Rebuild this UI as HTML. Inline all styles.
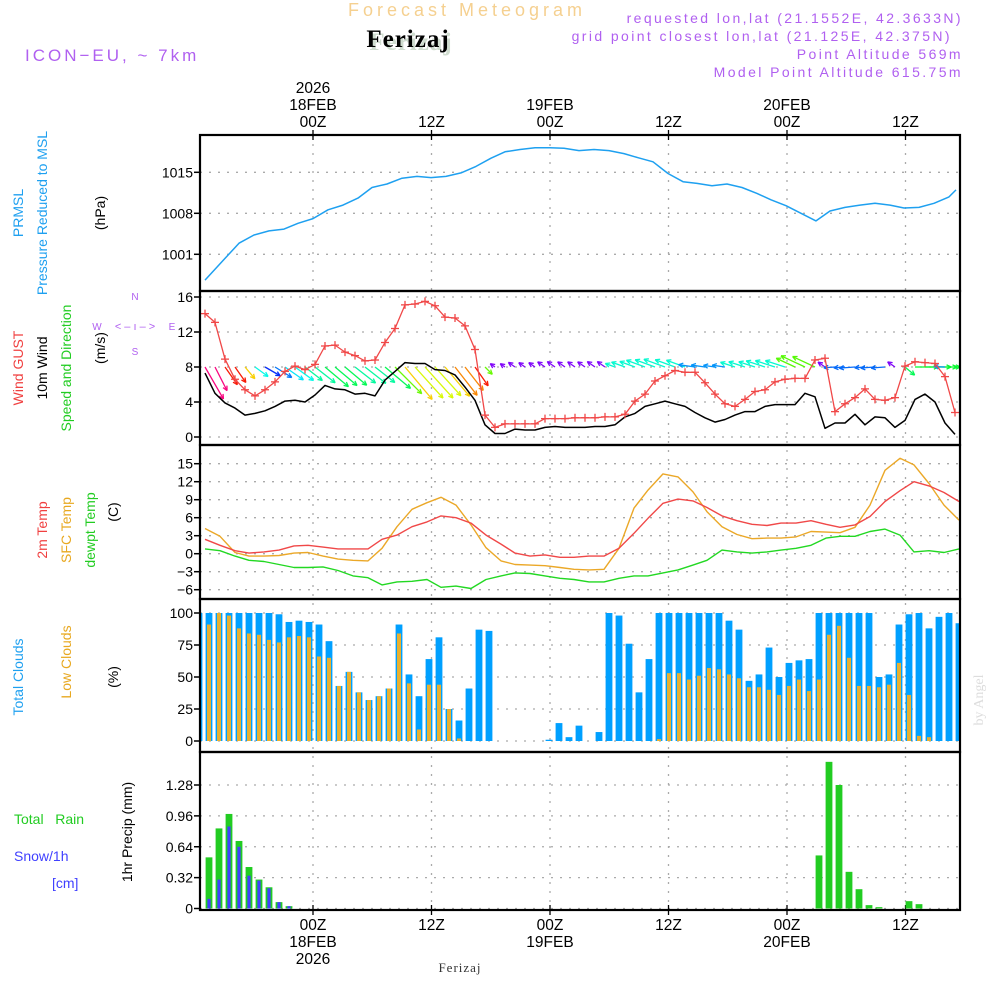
<!DOCTYPE html>
<html><head><meta charset="utf-8">
<style>
html,body{margin:0;padding:0;background:#fff;}
svg{display:block;font-family:"Liberation Sans",sans-serif;}
</style></head>
<body>
<svg id="chart" width="1000" height="1000" viewBox="0 0 1000 1000" xmlns="http://www.w3.org/2000/svg">
<rect x="0" y="0" width="1000" height="1000" fill="#fff"/>
<text x="467" y="16" text-anchor="middle" font-size="18" fill="#f5d090" letter-spacing="4">Forecast Meteogram</text>
<text x="411" y="50" text-anchor="middle" font-size="25" font-weight="bold" font-family="Liberation Serif,serif" fill="#cfdccf" letter-spacing="1">Ferizaj</text>
<text x="408" y="47" text-anchor="middle" font-size="25" font-weight="bold" font-family="Liberation Serif,serif" fill="#000" letter-spacing="1">Ferizaj</text>
<text x="25" y="61" font-size="17" fill="#b060f0" letter-spacing="3">ICON−EU, ~ 7km</text>
<g font-size="14" fill="#b060f0" text-anchor="end" letter-spacing="2.4">
<text x="963" y="23">requested lon,lat (21.1552E, 42.3633N)</text>
<text x="952" y="41">grid point closest lon,lat (21.125E, 42.375N)</text>
<text x="963" y="59">Point Altitude 569m</text>
<text x="963" y="77">Model Point Altitude 615.75m</text>
</g>
<g id="axes"></g>
<g id="marks"></g>
<g font-size="14">
<text transform="translate(23,213) rotate(-90)" text-anchor="middle" fill="#1ea0f0">PRMSL</text>
<text transform="translate(47,213) rotate(-90)" text-anchor="middle" fill="#1ea0f0">Pressure Reduced to MSL</text>
<text transform="translate(105,213) rotate(-90)" text-anchor="middle" fill="#000">(hPa)</text>
<text transform="translate(23,368) rotate(-90)" text-anchor="middle" fill="#f04040">Wind GUST</text>
<text transform="translate(47,368) rotate(-90)" text-anchor="middle" fill="#000">10m Wind</text>
<text transform="translate(71,368) rotate(-90)" text-anchor="middle" fill="#22cc22">Speed and Direction</text>
<text transform="translate(105,348) rotate(-90)" text-anchor="middle" fill="#000">(m/s)</text>
<g fill="#b060f0" font-size="10">
<text x="135" y="300" text-anchor="middle">N</text>
<text x="135" y="355" text-anchor="middle">S</text>
<text x="97" y="330" text-anchor="middle">W</text>
<text x="172" y="330" text-anchor="middle">E</text>
<text x="135" y="330" text-anchor="middle" font-size="11">&lt; – ı – &gt;</text>
</g>
<text transform="translate(47,530) rotate(-90)" text-anchor="middle" fill="#f04040">2m Temp</text>
<text transform="translate(71,530) rotate(-90)" text-anchor="middle" fill="#e8a820">SFC Temp</text>
<text transform="translate(95,530) rotate(-90)" text-anchor="middle" fill="#22cc22">dewpt Temp</text>
<text transform="translate(118,512) rotate(-90)" text-anchor="middle" fill="#000">(C)</text>
<text transform="translate(23,677) rotate(-90)" text-anchor="middle" fill="#1ea0f0">Total Clouds</text>
<text transform="translate(71,662) rotate(-90)" text-anchor="middle" fill="#e8a820">Low Clouds</text>
<text transform="translate(118,677) rotate(-90)" text-anchor="middle" fill="#000">(%)</text>
<text x="14" y="824" fill="#22cc22" xml:space="preserve">Total   Rain</text>
<text x="14" y="861" fill="#4040ff">Snow/1h</text>
<text x="52" y="888" fill="#4040ff">[cm]</text>
<text transform="translate(132,832) rotate(-90)" text-anchor="middle" fill="#000">1hr Precip (mm)</text>
</g>
<text transform="translate(983,700) rotate(-90)" text-anchor="middle" font-size="14" font-family="Liberation Serif,serif" fill="#dddddd">by Angel</text>
<text x="460" y="972" text-anchor="middle" font-size="13" font-family="Liberation Serif,serif" fill="#333" letter-spacing="1">Ferizaj</text>
</svg>
<script>
// ---- data ----
const pressHours = [0,2,3.4,4.9,6.4,7.9,9.3,10.8,12.3,13.8,15.3,16.7,18.2,19.7,21.2,22.6,24.1,25.6,27.1,28.6,30.0,31.5,33.0,34.5,35.9,37.4,38.9,40.4,41.9,43.3,44.8,46.3,47.8,49.2,50.7,52.2,53.7,55.2,56.6,58.1,59.6,61.1,62.5,64.0,65.5,67.0,68.5,69.9,71.4,72.9,74.4,75.1];
const pressure = [996.6,1000.3,1002.9,1004.3,1005.0,1005.3,1006.3,1007.1,1008.6,1009.4,1010.6,1012.4,1013.0,1014.0,1014.3,1014.1,1014.3,1014.9,1016.0,1017.4,1018.5,1018.9,1019.2,1019.2,1019.1,1018.7,1018.9,1018.7,1018.2,1017.5,1016.8,1014.8,1013.4,1013.1,1012.7,1013.0,1012.4,1011.4,1010.3,1009.3,1008.0,1006.7,1008.4,1009.0,1009.4,1009.7,1009.4,1008.9,1009.0,1009.7,1010.8,1012.0];
const gust = [14.1,13.1,8.9,6.6,5.4,4.7,5.4,6.3,7.5,8.1,7.7,8.3,10.4,10.5,9.7,9.3,8.7,8.8,10.8,12.4,15.1,15.2,15.5,15.0,13.7,13.6,12.7,10.0,2.5,1.1,1.5,1.5,1.5,1.5,2.1,2.1,2.1,2.2,2.2,2.2,2.3,2.3,2.6,4.1,4.9,6.4,7.0,7.6,7.4,7.4,6.2,4.9,3.8,3.5,4.3,5.2,5.4,6.3,6.6,6.7,6.7,8.8,9.0,2.9,3.8,4.5,5.5,4.3,4.2,4.5,8.1,8.6,8.5,8.4,6.9,2.8];
const windSpeed = [7.3,5.0,3.9,3.3,2.5,2.7,3.0,3.5,4.1,4.2,4.0,4.8,5.9,5.5,5.4,4.9,5.0,4.7,6.5,7.5,8.5,8.4,8.4,7.7,7.6,7.1,5.7,4.2,1.4,0.4,0.4,0.9,0.8,0.8,1.1,1.2,1.1,1.1,1.1,1.2,1.2,1.4,2.3,2.7,3.5,3.8,4.1,3.8,3.5,2.8,2.2,1.7,2.0,2.5,2.9,2.9,3.5,3.7,3.7,3.7,5.0,4.6,1.0,1.6,1.6,2.6,1.4,2.3,2.2,1.1,1.9,4.3,4.9,4.0,1.6,0.3];
const windToward = [60,63,55,55,50,36,30,32,35,36,38,38,40,40,40,38,38,38,40,45,50,48,48,48,50,52,52,55,45,-145,-145,-145,-145,-145,-145,-145,-145,-145,-145,-145,-145,-160,-160,-160,-160,-160,-160,-160,-160,-172,-172,-172,-172,-162,-162,-162,-162,-162,-162,-155,-155,-155,-145,176,176,176,176,176,176,-145,40,0,0,0,-178,0];
const tempHours = [0,1.5,3,4.4,5.9,7.4,8.9,10.3,11.8,13.3,14.8,16.3,17.7,19.2,20.7,22.2,23.6,25.1,26.6,28.1,29.6,31,32.5,34,35.5,36.9,38.4,39.9,41.4,42.9,44.3,45.8,47.3,48.8,50.2,51.7,53.2,54.7,56.2,57.6,59.1,60.6,62.1,63.5,65,66.5,68,69.5,70.9,72.4,73.9,75.4];
const temp2m = [2.4,1.4,0.5,0.1,0.3,0.6,1.3,1.4,1.1,0.8,0.8,0.8,2.4,3.1,4.5,5.3,6.3,6.0,5.1,3.1,1.6,0.1,-0.4,-0.2,-0.6,-0.6,-0.4,-0.4,0.9,3.4,5.9,8.4,9.1,8.8,7.7,6.3,5.5,4.9,4.7,5.1,5.1,5.5,4.9,4.4,4.8,6.2,8.7,10.5,12.0,11.3,10.2,8.7];
const tempSfc = [4.2,2.9,0.2,-0.4,-0.4,-0.3,0.1,0.2,-0.4,-0.9,-1.1,-1.2,0.9,4.5,7.4,8.5,9.4,8.1,4.8,1.0,-1.2,-1.8,-1.9,-2.0,-2.3,-2.6,-2.7,-2.6,0.9,7.6,10.6,13.3,12.8,10.3,7.0,4.5,3.2,2.5,2.6,2.6,2.8,3.7,3.6,3.5,4.4,8.1,13.9,15.9,14.8,11.7,8.1,5.6];
const dewpt = [0.8,0.5,-0.4,-1.1,-1.3,-1.8,-2.3,-2.3,-2.2,-2.8,-3.7,-4.0,-5.2,-4.7,-4.6,-4.3,-5.6,-5.4,-5.8,-4.3,-3.7,-3.2,-3.3,-3.7,-4.1,-4.3,-4.7,-4.7,-4.1,-3.7,-3.7,-3.2,-2.7,-1.9,-1.1,0.6,0.3,0.1,0.3,0.6,0.9,1.4,2.6,2.9,2.9,3.7,4.1,3.1,0.3,0.5,0.2,0.8];
const totalClouds = [100,100,100,100,100,100,100,100,99,93,94,93,91,78,43,54,38,32,35,41,91,52,35,64,81,25,16,41,87,86,0,0,0,0,0,1,14,3,12,0,7,100,98,76,38,64,100,100,100,100,100,100,100,94,87,47,52,73,50,61,63,64,100,100,100,100,100,100,50,52,91,99,100,88,97,100,92];
const lowClouds = [90,91,100,98,88,84,83,79,77,81,82,81,66,65,43,54,38,32,35,41,84,45,9,44,44,25,2,0,0,0,0,0,0,0,0,0,0,0,0,0,0,0,0,0,0,0,1.5,53,53,48,51,57,56,52,49,42,42,40,36,43,48,39,48,83,90,65,43,43,42,44,61,36,4,3,0,0,0];
const rain = [0,0.53,0.83,0.98,0.70,0.43,0.30,0.22,0.066,0.024,0,0,0,0,0,0,0,0,0,0,0,0,0,0,0,0,0,0,0,0,0,0,0,0,0,0,0,0,0,0,0,0,0,0,0,0,0,0,0,0,0,0,0,0,0,0,0,0,0,0,0,0,0.55,1.52,1.28,0.38,0.20,0.035,0.014,0,0,0.076,0.045,0,0,0,0];
const snow = [0,0.10,0.30,0.85,0.64,0.34,0.29,0.21,0.066,0.024,0,0,0,0,0,0,0,0,0,0,0,0,0,0,0,0,0,0,0,0,0,0,0,0,0,0,0,0,0,0,0,0,0,0,0,0,0,0,0,0,0,0,0,0,0,0,0,0,0,0,0,0,0,0,0,0,0,0,0,0,0,0,0,0,0,0,0];
const pressTicks = [1015,1008,1001];
const windTicks = [16,12,8,4,0];
const tempTicks = [15,12,9,6,3,0,-3,-6];
const cloudTicks = [100,75,50,25,0];
const precipTicks = [1.28,0.96,0.64,0.32,0];
const timeLabels = ["00Z","12Z","00Z","12Z","00Z","12Z"];
const dayLabels = ["18FEB","","19FEB","","20FEB",""];
const gridHours = [10.8,22.65,34.5,46.35,58.2,70.05];

// ---- scales ----
const NS="http://www.w3.org/2000/svg";
const X0=200,X1=960;
const xLine = h => 205 + 10*h;
const xBar = i => 199 + 10*i;
const yP = p => 172.3 - (p-1015)*5.857;
const yW = v => 437 - v*8.75;
const yT = t => 553.7 - t*6;
const yC = c => 741 - c*1.28;
const yR = r => 908.5 - r*(123.5/1.28);
const panels=[{t:135,b:291},{t:291,b:445},{t:445,b:599},{t:599,b:752},{t:752,b:910}];
const axes=document.getElementById('axes'), marks=document.getElementById('marks');
function mk(tag,attrs,parent){const e=document.createElementNS(NS,tag);for(const k in attrs)e.setAttribute(k,attrs[k]);(parent||marks).appendChild(e);return e;}

const defs=mk('defs',{},document.getElementById('chart'));
const cp=mk('clipPath',{id:'plotclip'},defs);
mk('rect',{x:X0,y:135,width:X1-X0,height:775},cp);
marks.setAttribute('clip-path','url(#plotclip)');

function hGrid(vals,yf,fmt,name){
  vals.forEach(v=>{
    const y=yf(v);
    const g=mk('line',{x1:X0,x2:X1,y1:y,y2:y,stroke:'#aaa','stroke-width':1.3,'stroke-dasharray':'2,7'},axes);
    
    
    const tk=mk('line',{x1:X0-6,x2:X0,y1:y,y2:y,stroke:'#000','stroke-width':1.5},axes);
    
    
    const t=mk('text',{x:X0-7,y:y+5,'text-anchor':'end','font-size':14,fill:'#000'},axes);
    t.textContent=fmt(v);
    
    
  });
}
hGrid(pressTicks,yP,v=>String(v),'pressure');
hGrid(windTicks,yW,v=>String(v),'wind');
hGrid(tempTicks,yT,v=>v<0?'−'+Math.abs(v):String(v),'temp');
hGrid(cloudTicks,yC,v=>String(v),'cloud');
hGrid(precipTicks,yR,v=>v===0?'0':v.toFixed(2),'precip');

gridHours.forEach((h,i)=>{
  const x=xLine(h);
  const g=mk('line',{x1:x,x2:x,y1:135,y2:910,stroke:'#aaa','stroke-width':1.3,'stroke-dasharray':'2,7'},axes);
  
  
  [135,910].forEach(yb=>{const tk=mk('line',{x1:x,x2:x,y1:yb-5,y2:yb+5,stroke:'#000','stroke-width':1.3},axes);
    
    });
  const t1=mk('text',{x:x,y:127,'text-anchor':'middle','font-size':15.5,fill:'#000'},axes);
  t1.textContent=timeLabels[i];
  
  
  const b1=mk('text',{x:x,y:930,'text-anchor':'middle','font-size':15.5,fill:'#000'},axes);
  b1.textContent=timeLabels[i];
  
  
  if(dayLabels[i]){
    const t2=mk('text',{x:x,y:110,'text-anchor':'middle','font-size':15.5,fill:'#000'},axes);
    t2.textContent=dayLabels[i];
    
    
    const b2=mk('text',{x:x,y:947,'text-anchor':'middle','font-size':15.5,fill:'#000'},axes);
    b2.textContent=dayLabels[i];
    
    
  }
});
const yt=mk('text',{x:xLine(gridHours[0]),y:93,'text-anchor':'middle','font-size':15.5,fill:'#000'},axes);
yt.textContent='2026';


const yb=mk('text',{x:xLine(gridHours[0]),y:964,'text-anchor':'middle','font-size':15.5,fill:'#000'},axes);
yb.textContent='2026';



function poly(hs,vals,xf,yf,color,name,w){
  const pts=vals.map((v,i)=>xf(hs?hs[i]:i).toFixed(1)+','+yf(v).toFixed(1)).join(' ');
  const p=mk('polyline',{points:pts,fill:'none',stroke:color,'stroke-width':w||1.4,'stroke-linejoin':'round'});
  
  
}
poly(pressHours,pressure,xLine,yP,'#1ea0f0','pressure-line',1.5);

totalClouds.forEach((v,i)=>{
  const x=xBar(i);
  if(v>0){const r=mk('rect',{x:x-3.4,y:yC(v),width:6.8,height:yC(0)-yC(v),fill:'#00a0ff'});
  
  }
  const lv=lowClouds[i];
  if(lv>0){const r2=mk('rect',{x:x-2,y:yC(lv),width:4,height:yC(0)-yC(lv),fill:'#e8b030'});
  
  }
});
rain.forEach((v,i)=>{
  const x=xBar(i);
  if(v>0){const r=mk('rect',{x:x-3.4,y:yR(v),width:6.8,height:yR(0)-yR(v),fill:'#22cc22'});
  
  }
  const s=snow[i];
  if(s>0){const r2=mk('rect',{x:x-1.6,y:yR(s),width:3.2,height:yR(0)-yR(s),fill:'#4040ff'});
  
  }
});

poly(tempHours,tempSfc,xLine,yT,'#eba828','sfc-temp-line',1.4);
poly(tempHours,temp2m,xLine,yT,'#f04848','temp-2m-line',1.4);
poly(tempHours,dewpt,xLine,yT,'#22d822','dewpt-line',1.4);

function arrowColor(a){
  let h;
  if(a>=-90&&a<=90){ if(a<=5) h=130; else if(a<30) h=210; else if(a<=56) h=230-(a-30)*9; else h=330; }
  else if(a<0){ h = a>-150 ? 270 : (a>-158? 100 : (a>-166? 170 : 205)); }
  else h=215;
  return 'hsl('+((h+360)%360)+',95%,50%)';
}
windSpeed.forEach((s,k)=>{
  const x=xLine(k), y=yW(8);
  const L=4+4.5*s, a=windToward[k]*Math.PI/180;
  const x2=x+L*Math.cos(a), y2=y+L*Math.sin(a);
  const c=arrowColor(windToward[k]);
  const g=mk('g',{stroke:c,'stroke-width':1.3,fill:'none'});
  
  
  mk('line',{x1:x,y1:y,x2:x2,y2:y2},g);
  const hl=5;
  [a+Math.PI-0.45,a+Math.PI+0.45].forEach(b=>mk('line',{x1:x2,y1:y2,x2:x2+hl*Math.cos(b),y2:y2+hl*Math.sin(b)},g));
});
poly(null,windSpeed,xLine,yW,'#000','wind-speed-line',1.5);
poly(null,gust,xLine,yW,'#f04848','gust-line',1.3);
gust.forEach((v,k)=>{
  const x=xLine(k),y=yW(v);
  const g=mk('g',{stroke:'#f04848','stroke-width':1.3});
  
  
  mk('line',{x1:x-4,x2:x+4,y1:y,y2:y},g);
  mk('line',{x1:x,x2:x,y1:y-4,y2:y+4},g);
});

panels.forEach((p,i)=>{
  const r=mk('rect',{x:X0,y:p.t,width:X1-X0,height:p.b-p.t,fill:'none',stroke:'#000','stroke-width':2.2},axes.parentNode);
  
  
});
</script>
</body></html>
